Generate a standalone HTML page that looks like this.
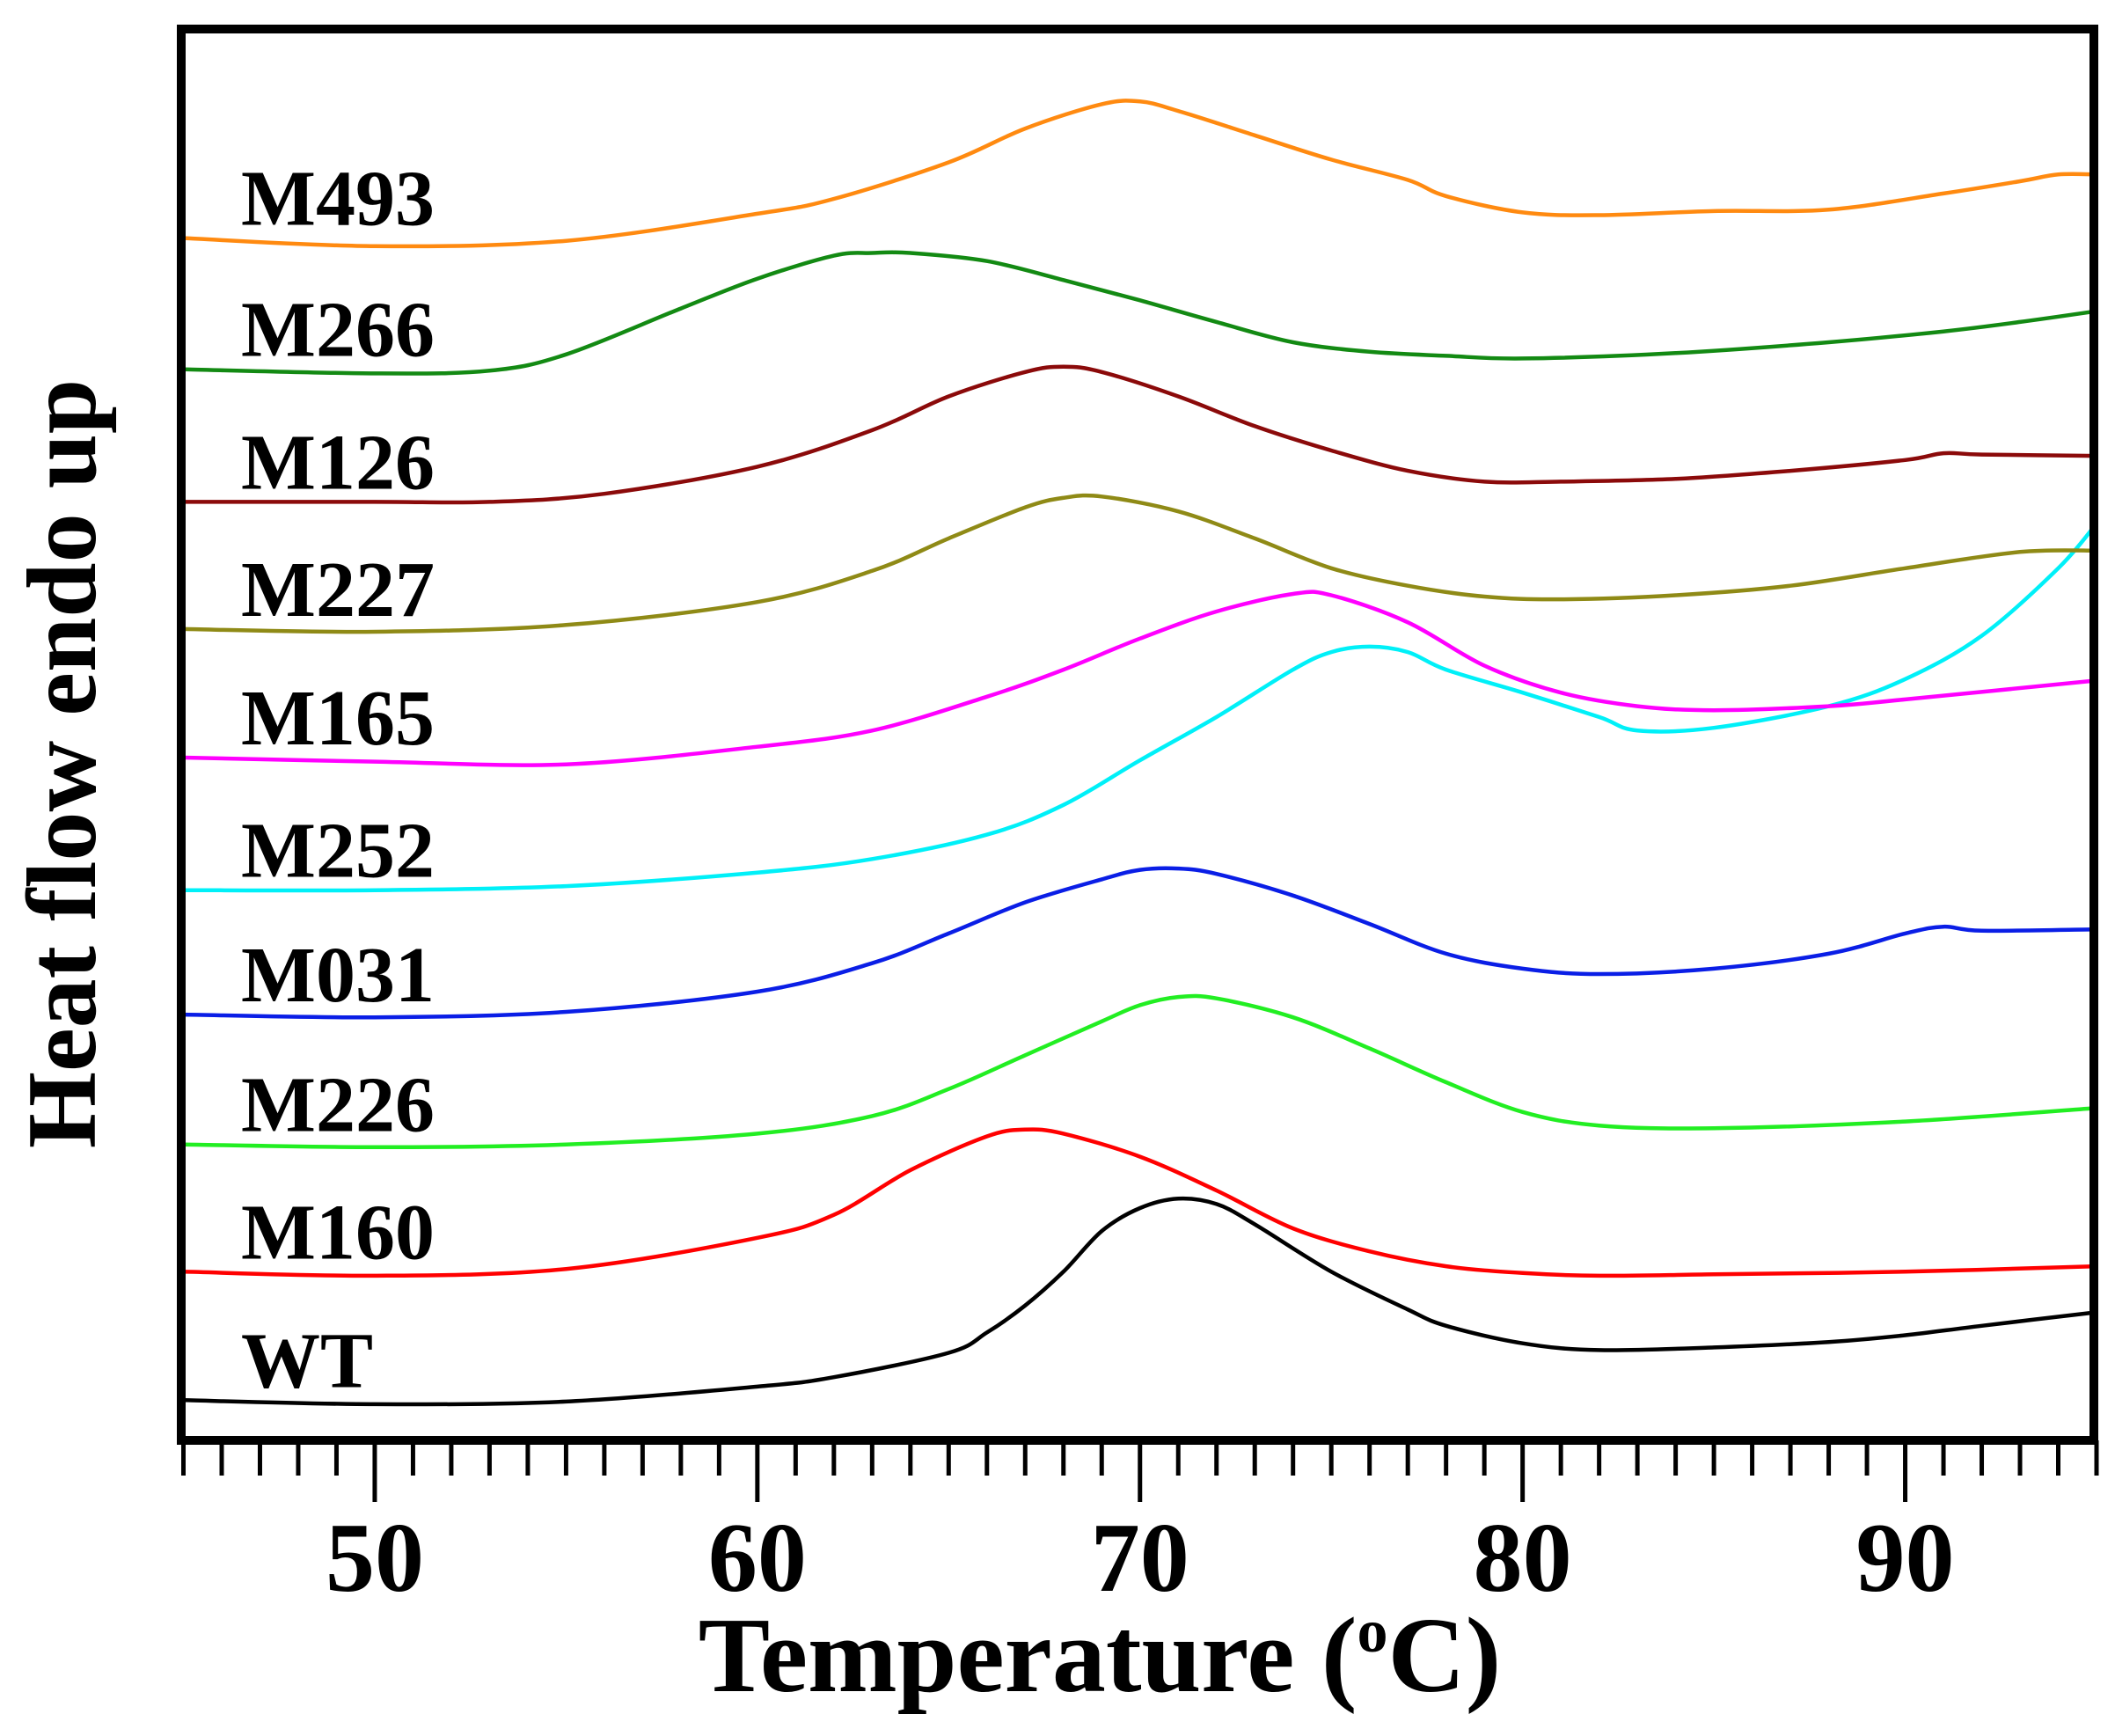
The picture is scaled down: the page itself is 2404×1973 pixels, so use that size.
<!DOCTYPE html>
<html><head><meta charset="utf-8"><style>
html,body{margin:0;padding:0;background:#fff;}
svg text{font-family:"Liberation Serif",serif;font-weight:bold;fill:#000;}
</style></head><body>
<svg id="chart" width="2404" height="1968" viewBox="0 0 2404 1968" xmlns="http://www.w3.org/2000/svg">
<g id="curves"></g>
<g id="labels"></g>
<rect x="206" y="33" width="2174" height="1604" fill="none" stroke="#000" stroke-width="10"/>
<g id="ticks"></g>
<text x="1250" y="1922" font-size="122" text-anchor="middle">Temperature (<tspan font-size="70" dy="-45">o</tspan><tspan dy="45">C)</tspan></text>
<text transform="translate(108,868) rotate(-90)" font-size="112" text-anchor="middle">Heat flow endo up</text>
</svg>
<script>
// data: temperatures (°C) and heat-flow values (arbitrary units, offset stacked)
const seriesNames = ["WT","M160","M226","M031","M252","M165","M227","M126","M266","M493"];
const seriesColors = ["#000000","#ff0000","#22ee22","#0a1ee6","#00f0f8","#ff00ff","#8f8a16","#8b0a0a","#138a13","#ff8a10"];
const tWT=[45,50,55,60,62,65,66,67,68,69,70,71,72,73,75,77,78,80,82,85,88,90,92,95];
const vWT=[33,30,32,43,50,68,83,103,128,158,175,182,178,163,128,100,88,75,70,72,76,81,88,98];
const tM160=[45,50,55,60,62,64,66,67,68,70,72,74,76,78,80,82,85,90,95];
const vM160=[128,125,130,153,170,203,228,233,230,213,188,160,143,132,127,125,126,128,132];
const tM226=[45,50,55,60,63,65,67,69,70,71,72,74,76,78,80,82,85,90,95];
const vM226=[222,220,222,230,243,263,288,313,325,331,330,316,293,268,246,236,234,239,249];
const tM031=[45,50,55,60,63,65,67,69,70,71,72,74,76,78,80,82,85,88,90,91,92,95];
const vM031=[318,316,320,335,356,378,401,418,425,426,422,406,385,363,352,348,352,363,378,383,380,381];
const tM252=[45,50,55,60,63,66,68,70,72,74,75,76,77,78,80,82,83,85,88,90,92,94,95];
const vM252=[410,410,413,423,433,451,473,506,538,573,586,590,586,573,556,538,528,530,546,566,598,648,681];
const tM165=[45,50,55,60,63,66,68,70,72,74,75,77,79,81,83,85,88,90,95];
const vM165=[508,505,503,516,528,553,573,596,616,629,628,608,576,556,546,543,546,551,565];
const tM227=[45,50,55,60,63,65,67,68,69,71,73,75,77,79,81,84,87,90,93,95];
const vM227=[603,601,606,623,646,670,693,700,701,690,670,648,635,627,625,628,635,648,660,661];
const tM126=[45,50,53,56,60,63,65,67,68,69,71,73,75,77,79,81,84,87,90,91,92,95];
const vM126=[697,697,697,703,723,750,775,793,797,793,775,753,735,720,712,712,714,720,728,733,732,731];
const tM266=[45,50,53,55,58,60,62,63,64,66,68,70,72,74,76,78,80,84,88,91,93,95];
const vM266=[795,792,794,806,840,862,879,881,881,875,861,846,830,815,808,805,803,807,815,823,830,838];
const tM493=[45,50,55,60,62,65,67,69,70,71,73,75,77,78,80,82,85,88,91,93,94,95];
const vM493=[892,886,890,910,921,948,973,991,993,986,968,950,935,923,911,909,912,913,925,934,939,939];
const xTickLabels=[50,60,70,80,90];
const labelOffsets=[33,128,222,318,410,508,603,697,795,892];

const tAll=[tWT,tM160,tM226,tM031,tM252,tM165,tM227,tM126,tM266,tM493];
const vAll=[vWT,vM160,vM226,vM031,vM252,vM165,vM227,vM126,vM266,vM493];

const X0=45,X1=95,PX0=208.5,PX1=2383;
function xs(t){return PX0+(t-X0)*(PX1-PX0)/(X1-X0);}
function ys(v){return (1068-v)*1.5375;}
const NS="http://www.w3.org/2000/svg";
function pathFrom(pts){
  let d="M"+pts[0][0].toFixed(1)+","+pts[0][1].toFixed(1);
  for(let i=0;i<pts.length-1;i++){
    const p0=pts[Math.max(0,i-1)],p1=pts[i],p2=pts[i+1],p3=pts[Math.min(pts.length-1,i+2)];
    const c1x=p1[0]+(p2[0]-p0[0])/6,c1y=p1[1]+(p2[1]-p0[1])/6;
    const c2x=p2[0]-(p3[0]-p1[0])/6,c2y=p2[1]-(p3[1]-p1[1])/6;
    d+=" C"+c1x.toFixed(1)+","+c1y.toFixed(1)+" "+c2x.toFixed(1)+","+c2y.toFixed(1)+" "+p2[0].toFixed(1)+","+p2[1].toFixed(1);
  }
  return d;
}
const gC=document.getElementById("curves");
const gL=document.getElementById("labels");
for(let s=0;s<seriesNames.length;s++){
  const pts=tAll[s].map((t,i)=>[xs(t),ys(vAll[s][i])]);
  const p=document.createElementNS(NS,"path");
  p.setAttribute("d",pathFrom(pts));
  p.setAttribute("fill","none");
  p.setAttribute("stroke",seriesColors[s]);
  p.setAttribute("stroke-width","4.5");
  
  
  gC.appendChild(p);
  const tx=document.createElementNS(NS,"text");
  tx.setAttribute("x",274);
  tx.setAttribute("y",ys(labelOffsets[s])-15);
  tx.setAttribute("font-size","90");
  tx.textContent=seriesNames[s];
  
  
  gL.appendChild(tx);
}
const gT=document.getElementById("ticks");
for(let t=X0;t<=X1;t++){
  const major=(t%10===0);
  const l=document.createElementNS(NS,"line");
  l.setAttribute("x1",xs(t));l.setAttribute("x2",xs(t));
  l.setAttribute("y1",1637);l.setAttribute("y2",major?1707:1677);
  l.setAttribute("stroke","#000");l.setAttribute("stroke-width","5");
  
  
  gT.appendChild(l);
}
xTickLabels.forEach(v=>{
  const tx=document.createElementNS(NS,"text");
  tx.setAttribute("x",xs(v));tx.setAttribute("y",1808);
  tx.setAttribute("font-size","112");tx.setAttribute("text-anchor","middle");
  tx.textContent=v;
  
  
  gT.appendChild(tx);
});
</script>
</body></html>
